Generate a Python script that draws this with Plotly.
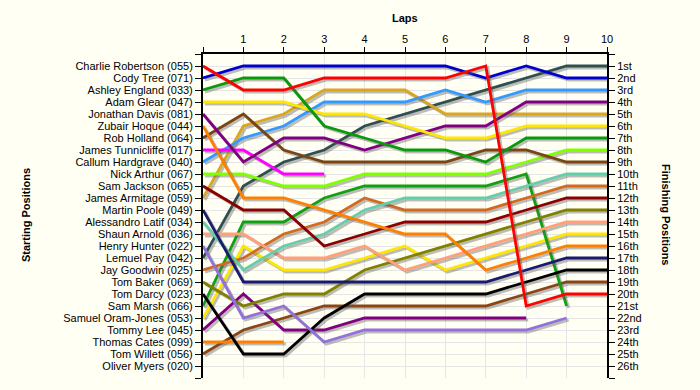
import plotly.graph_objects as go

laps = list(range(11))
lap_labels = ["", "1", "2", "3", "4", "5", "6", "7", "8", "9", "10"]

drivers = [
    "Charlie Robertson (055)", "Cody Tree (071)", "Ashley England (033)", "Adam Glear (047)",
    "Jonathan Davis (081)", "Zubair Hoque (044)", "Rob Holland (064)", "James Tunnicliffe (017)",
    "Callum Hardgrave (040)", "Nick Arthur (067)", "Sam Jackson (065)", "James Armitage (059)",
    "Martin Poole (049)", "Alessandro Latif (034)", "Shaun Arnold (036)", "Henry Hunter (022)",
    "Lemuel Pay (042)", "Jay Goodwin (025)", "Tom Baker (069)", "Tom Darcy (023)",
    "Sam Marsh (066)", "Samuel Oram-Jones (053)", "Tommy Lee (045)", "Thomas Cates (099)",
    "Tom Willett (056)", "Oliver Myers (020)",
]

finish_labels = ["1st", "2nd", "3rd", "4th", "5th", "6th", "7th", "8th", "9th", "10th",
                 "11th", "12th", "13th", "14th", "15th", "16th", "17th", "18th", "19th", "20th",
                 "21st", "22nd", "23rd", "24th", "25th", "26th"]

# positions per lap (lap 0 .. last lap completed)
robertson   = [1, 3, 3, 2, 2, 2, 2, 1, 21, 20, 20]
tree        = [2, 1, 1, 1, 1, 1, 1, 2, 1, 2, 2]
england     = [3, 2, 2, 6, 7, 8, 8, 9, 7, 7, 7]
glear       = [4, 4, 4, 5, 5, 6, 7, 7, 6, 6, 6]
davis       = [5, 9, 7, 7, 8, 7, 6, 6, 4, 4, 4]
hoque       = [6, 12, 12, 13, 14, 15, 15, 18, 17, 16, 16]
holland     = [7, 5, 8, 9, 9, 9, 9, 8, 8, 9, 9]
tunnicliffe = [8, 8, 10, 10]
hardgrave   = [9, 7, 6, 4, 4, 4, 3, 4, 3, 3, 3]
arthur      = [10, 10, 11, 11, 10, 10, 10, 10, 9, 8, 8]
jackson     = [11, 13, 13, 16, 15, 14, 14, 14, 13, 12, 12]
armitage    = [12, 6, 5, 3, 3, 3, 5, 5, 5, 5, 5]
poole       = [13, 19, 19, 19, 19, 19, 19, 19, 18, 17, 17]
latif       = [14, 18, 16, 15, 13, 12, 12, 12, 11, 10, 10]
arnold      = [15, 15, 17, 17, 16, 18, 17, 16, 15, 14, 14]
hunter      = [16, 22, 21, 24, 23, 23, 23, 23, 23, 22]
pay         = [17, 11, 9, 8, 6, 5, 4, 3, 2, 1, 1]
goodwin     = [18, 17, 15, 14, 12, 13, 13, 13, 12, 11, 11]
baker       = [19, 21, 20, 20, 18, 17, 16, 15, 14, 13, 13]
darcy       = [20, 25, 25, 22, 20, 20, 20, 20, 19, 18, 18]
marsh       = [21, 14, 14, 12, 11, 11, 11, 11, 10, 21]
oram_jones  = [22, 16, 18, 18, 17, 16, 18, 17, 16, 15, 15]
lee         = [23, 20, 23, 23, 22, 22, 22, 22, 22]
cates       = [24, 24, 24]
willett     = [25, 23, 22, 21, 21, 21, 21, 21, 20, 19, 19]
myers       = [26]

series = [robertson, tree, england, glear, davis, hoque, holland, tunnicliffe, hardgrave,
          arthur, jackson, armitage, poole, latif, arnold, hunter, pay, goodwin, baker,
          darcy, marsh, oram_jones, lee, cates, willett, myers]

colors = ["#FF0000", "#0000CC", "#0A990A", "#FFE600", "#800080", "#FF8000", "#7A4510",
          "#FF00FF", "#3399FF", "#80FF00", "#8B0000", "#DAA520", "#1A1A6E", "#66CDAA",
          "#FFA07A", "#9370DB", "#2F4F4F", "#D2691E", "#808000", "#000000", "#10A010",
          "#FFE600", "#800080", "#FF8000", "#8B4513", "#888888"]

FONT = "Liberation Sans, Arial, sans-serif"
BG = "#FFFFF4"

fig = go.Figure()

# shadow offsets in data units (~2px)
dx, dy = 0.05, 0.17

for name, pos, col in reversed(list(zip(drivers, series, colors))):
    xs = laps[:len(pos)]
    fig.add_trace(go.Scatter(
        x=[v + dx for v in xs], y=[p + dy for p in pos], mode="lines",
        line=dict(color="rgba(90,90,90,0.4)", width=3),
        hoverinfo="skip", showlegend=False))
    fig.add_trace(go.Scatter(
        x=xs, y=pos, mode="lines", name=name,
        line=dict(color=col, width=2.8), showlegend=False))

# invisible trace to activate right axis
fig.add_trace(go.Scatter(x=[0], y=[1], yaxis="y2", mode="markers",
                         marker=dict(opacity=0), hoverinfo="skip", showlegend=False))

ytick_vals = list(range(0, 28))
fig.update_layout(
    width=700, height=390,
    margin=dict(l=203, r=93, t=54, b=12),
    paper_bgcolor=BG, plot_bgcolor=BG,
    font=dict(family=FONT, size=11, color="#000000"),
    xaxis=dict(
        side="top", range=[0, 10], tickvals=laps, ticktext=lap_labels,
        ticks="outside", ticklen=5, tickcolor="#000", tickwidth=1,
        showline=True, linecolor="#000", linewidth=2,
        showgrid=True, gridcolor="#E6E6E6", gridwidth=1, zeroline=False,
        tickfont=dict(family=FONT, size=11, color="#000"),
    ),
    yaxis=dict(
        range=[27, 0], tickvals=ytick_vals, ticktext=[""] + drivers + [""],
        ticks="outside", ticklen=6, tickcolor="#000", tickwidth=1,
        showline=True, linecolor="#000", linewidth=2,
        showgrid=True, gridcolor="#E6E6E6", gridwidth=1, zeroline=False,
        tickfont=dict(family=FONT, size=11, color="#000"),
    ),
    yaxis2=dict(
        overlaying="y", side="right", range=[27, 0], tickvals=ytick_vals,
        ticktext=[""] + finish_labels + [""],
        ticks="outside", ticklen=6, tickcolor="#000", tickwidth=1,
        showline=True, linecolor="#000", linewidth=2,
        showgrid=False, zeroline=False,
        tickfont=dict(family=FONT, size=11, color="#000"),
    ),
    annotations=[
        dict(text="<b>Laps</b>", xref="paper", yref="paper", x=0.5, y=1.111,
             xanchor="center", yanchor="middle", showarrow=False,
             font=dict(family=FONT, size=11, color="#000")),
        dict(text="<b>Starting Positions</b>", xref="paper", yref="paper", x=-0.438, y=0.503,
             xanchor="center", yanchor="middle", showarrow=False, textangle=-90,
             font=dict(family=FONT, size=11, color="#000")),
        dict(text="<b>Finishing Positions</b>", xref="paper", yref="paper", x=1.146, y=0.503,
             xanchor="center", yanchor="middle", showarrow=False, textangle=90,
             font=dict(family=FONT, size=11, color="#000")),
    ],
)

fig.write_html("out.html", config={"displayModeBar": False},
               post_script="document.body.style.margin='0';document.body.style.background='%s';" % BG)
